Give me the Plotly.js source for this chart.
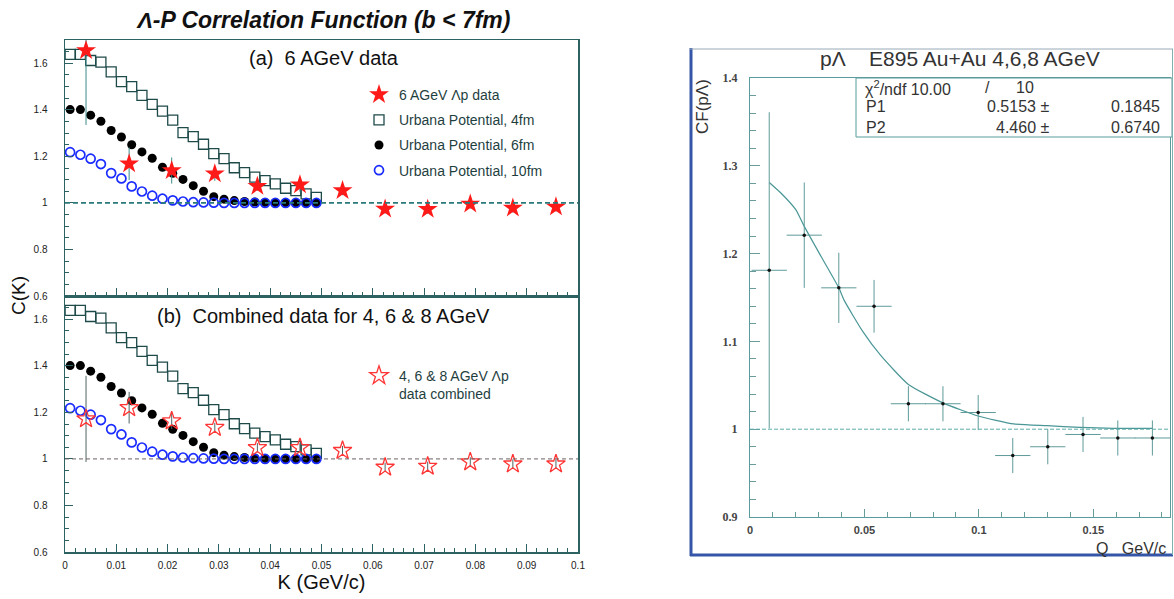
<!DOCTYPE html>
<html>
<head>
<meta charset="utf-8">
<script src="https://cdn.plot.ly/plotly-3.0.1.min.js"></script>
<style>html,body{margin:0;padding:0;background:#fff;}#chart{width:1174px;height:599px;}</style>
</head>
<body>
<div id="chart"></div>
<script>
// ---------------- data ----------------
// theory grid (Urbana potential calculations)
const K_THEORY = [0.001,0.003,0.005,0.007,0.009,0.011,0.013,0.015,0.017,0.019,0.021,0.023,0.025,
                  0.027,0.029,0.031,0.033,0.035,0.037,0.039,0.041,0.043,0.045,0.047,0.049];
const C_URBANA_4FM = [1.638,1.638,1.612,1.605,1.563,1.521,1.500,1.462,1.423,1.394,1.356,1.302,1.285,
                      1.252,1.212,1.190,1.151,1.130,1.111,1.096,1.082,1.063,1.053,1.039,1.024];
const C_URBANA_6FM = [1.401,1.401,1.377,1.351,1.311,1.283,1.250,1.219,1.192,1.153,1.127,1.101,1.074,
                      1.050,1.027,1.016,1.010,1.006,1.004,1.002,1.001,1.001,1.000,1.000,1.000];
const C_URBANA_10FM = [1.218,1.207,1.190,1.167,1.128,1.105,1.071,1.049,1.031,1.018,1.011,1.006,1.003,
                       1.002,1.001,1.000,1.000,1.000,1.000,1.000,1.000,1.000,1.000,1.000,1.000];
// data points
const K_DATA = [0.0041,0.0125,0.0208,0.0292,0.0375,0.0458,0.0541,0.0624,0.0707,0.0790,0.0873,0.0957];
const C_6AGEV = [1.655,1.168,1.139,1.125,1.072,1.078,1.053,0.974,0.973,0.995,0.978,0.983];
const C_6AGEV_ERR = [0.32,0.07,0.056,0.03,0.02,0.03,0.02,0.02,0.02,0.02,0.02,0.02];
const C_COMBINED = [1.172,1.220,1.163,1.135,1.048,1.048,1.036,0.964,0.968,0.987,0.978,0.978];
const C_COMBINED_ERR = [0.185,0.068,0.035,0.02,0.02,0.02,0.02,0.02,0.02,0.02,0.02,0.02];
// E895 pLambda panel
const Q_DATA = [0.0084,0.0237,0.0388,0.0542,0.0692,0.0843,0.0997,0.1148,0.1301,0.1455,0.1607,0.1758];
const Q_HALFBIN = [0.0077,0.0077,0.0077,0.0077,0.0077,0.0077,0.0077,0.0077,0.0077,0.0077,0.0077,0.0077];
const CF_DATA = [1.181,1.221,1.161,1.140,1.029,1.029,1.019,0.970,0.980,0.994,0.990,0.990];
const CF_ERR = [0.18,0.06,0.04,0.03,0.02,0.02,0.02,0.02,0.02,0.02,0.02,0.02];
const FIT_Q = [0.0084,0.0135,0.020,0.0237,0.031,0.0388,0.0411,0.0491,0.0571,0.0692,0.0843,0.0997,
               0.1152,0.1298,0.1443,0.159,0.1758];
const FIT_CF = [1.281,1.269,1.250,1.231,1.197,1.161,1.147,1.112,1.084,1.051,1.030,1.015,
                1.006,1.004,1.002,1.001,1.001];
const BASELINE = 1;
// text
const MAIN_TITLE = 'Λ-P Correlation Function (b < 7fm)';
const LABEL_A = '(a)\u00a0\u00a06 AGeV data';
const LABEL_B = '(b)\u00a0\u00a0Combined data for 4, 6 & 8 AGeV';
const NAMES = ['6 AGeV Λp data','Urbana Potential, 4fm','Urbana Potential, 6fm','Urbana Potential, 10fm'];
const NAME_COMBINED = '4, 6 & 8 AGeV Λp<br>data combined';
const RIGHT_TITLE = 'pΛ\u00a0\u00a0\u00a0\u00a0E895 Au+Au 4,6,8 AGeV';
const STATS = {chi2: '10.00', ndf: '10', p1: '0.5153', p1err: '0.1845', p2: '4.460', p2err: '0.6740'};

// ---------------- layout helpers ----------------
const W = 1174, H = 599;
const fx = p => p / W;
const fy = p => 1 - p / H;
const FRAME = '#2c6262';
const RFRAME = '#5a9c9c';
const SANS = 'Liberation Sans, Arial, sans-serif';

function leftX(anchor, labels) {
  return {
    domain: [fx(65), fx(578)], range: [0, 0.1], anchor: anchor,
    showticklabels: labels, tick0: 0, dtick: 0.01,
    ticks: 'inside', ticklen: 8, tickwidth: 1, tickcolor: FRAME,
    minor: {ticks: 'inside', ticklen: 4, dtick: 0.002, tickcolor: FRAME, tickwidth: 1},
    showline: true, linecolor: FRAME, linewidth: 1.5, mirror: true,
    showgrid: false, zeroline: false,
    tickfont: {family: SANS, size: 10, color: '#222'}, ticklabelstandoff: 3
  };
}
function leftY(anchor, top, bottom) {
  return {
    domain: [fy(bottom), fy(top)], range: [0.6, 1.7], anchor: anchor,
    tick0: 0.6, dtick: 0.2,
    ticks: 'inside', ticklen: 8, tickwidth: 1, tickcolor: FRAME,
    minor: {ticks: 'inside', ticklen: 4, dtick: 0.05, tickcolor: FRAME, tickwidth: 1},
    showline: true, linecolor: FRAME, linewidth: 1.5, mirror: true,
    showgrid: false, zeroline: false,
    tickfont: {family: SANS, size: 10, color: '#222'}, ticklabelstandoff: 14
  };
}

// ---------------- traces ----------------
function theory(xa, ya, show) {
  return [
    {x: K_THEORY, y: C_URBANA_4FM, xaxis: xa, yaxis: ya, type: 'scatter', mode: 'markers',
     name: NAMES[1], legend: 'legend', legendrank: 2, legendgroup: 'g2', showlegend: show,
     marker: {symbol: 'square-open', size: 10, color: '#1f4a4a', line: {width: 1.3}}},
    {x: K_THEORY, y: C_URBANA_6FM, xaxis: xa, yaxis: ya, type: 'scatter', mode: 'markers',
     name: NAMES[2], legend: 'legend', legendrank: 3, legendgroup: 'g3', showlegend: show,
     marker: {symbol: 'circle', size: 9, color: '#000'}},
    {x: K_THEORY, y: C_URBANA_10FM, xaxis: xa, yaxis: ya, type: 'scatter', mode: 'markers',
     name: NAMES[3], legend: 'legend', legendrank: 4, legendgroup: 'g4', showlegend: show,
     marker: {symbol: 'circle-open', size: 9, color: '#1a2cff', line: {width: 1.7}}}
  ];
}

const traces = [].concat(theory('x', 'y', true), [
  {x: K_DATA, y: C_6AGEV, xaxis: 'x', yaxis: 'y', type: 'scatter', mode: 'markers',
   name: NAMES[0], legend: 'legend', legendrank: 1, legendgroup: 'g1',
   marker: {symbol: 'star', size: 15, color: '#ff1a1a', line: {width: 0}},
   error_y: {type: 'data', array: C_6AGEV_ERR, color: '#3a8a8a', thickness: 1, width: 0}}
], theory('x2', 'y2', false), [
  {x: K_DATA, y: C_COMBINED, xaxis: 'x2', yaxis: 'y2', type: 'scatter', mode: 'markers',
   name: NAME_COMBINED, legend: 'legend2',
   marker: {symbol: 'star-open', size: 14, color: '#ff3535', line: {width: 1.3}},
   error_y: {type: 'data', array: C_COMBINED_ERR, color: '#4f6464', thickness: 1, width: 0}},
  {x: FIT_Q, y: FIT_CF, xaxis: 'x3', yaxis: 'y3', type: 'scatter', mode: 'lines',
   name: 'fit', showlegend: false, line: {color: '#4a9696', width: 1.2, shape: 'spline', smoothing: 0.5}},
  {x: Q_DATA, y: CF_DATA, xaxis: 'x3', yaxis: 'y3', type: 'scatter', mode: 'markers',
   name: 'E895 pΛ', showlegend: false,
   marker: {symbol: 'circle', size: 3.5, color: '#111'},
   error_x: {type: 'data', array: Q_HALFBIN, color: '#5f9a9a', thickness: 1, width: 0},
   error_y: {type: 'data', array: CF_ERR, color: '#5f9a9a', thickness: 1, width: 0}}
]);

// ---------------- annotations ----------------
function ann(text, x, y, opts) {
  return Object.assign({text: text, x: fx(x), y: fy(y), xref: 'paper', yref: 'paper',
    showarrow: false, xanchor: 'center', yanchor: 'middle',
    font: {family: SANS, size: 16, color: '#333'}}, opts || {});
}
const annotations = [
  ann(LABEL_A, 324, 58, {font: {family: SANS, size: 20, color: '#111'}}),
  ann(LABEL_B, 323, 316, {font: {family: SANS, size: 20, color: '#111'}}),
  ann('C(K)', 18, 296, {textangle: -90, font: {family: SANS, size: 19, color: '#111'}}),
  ann(RIGHT_TITLE, 960, 58, {font: {family: SANS, size: 21, color: '#333'}}),
  ann('CF(pΛ)', 703, 107, {textangle: -90, font: {family: SANS, size: 17, color: '#333'}}),
  ann('Q\u00a0\u00a0\u00a0GeV/c', 1168, 548, {xanchor: 'right', font: {family: SANS, size: 16, color: '#333'}}),
  ann('χ<sup>2</sup>/ndf ' + STATS.chi2, 863, 88, {xanchor: 'left'}),
  ann('/', 987, 88),
  ann(STATS.ndf, 1025, 88),
  ann('P1', 864, 107, {xanchor: 'left'}),
  ann(STATS.p1 + ' ±', 1051, 107, {xanchor: 'right'}),
  ann(STATS.p1err, 1162, 107, {xanchor: 'right'}),
  ann('P2', 864, 127, {xanchor: 'left'}),
  ann(STATS.p2 + ' ±', 1051, 127, {xanchor: 'right'}),
  ann(STATS.p2err, 1162, 127, {xanchor: 'right'})
];

// ---------------- shapes ----------------
const shapes = [
  {type: 'line', xref: 'x domain', yref: 'y', x0: 0, x1: 1, y0: BASELINE, y1: BASELINE,
   line: {color: '#2a7a7a', width: 1.6, dash: '5px,3px'}},
  {type: 'line', xref: 'x2 domain', yref: 'y2', x0: 0, x1: 1, y0: BASELINE, y1: BASELINE,
   line: {color: '#6f6262', width: 1, dash: '4px,3px'}},
  {type: 'line', xref: 'x3 domain', yref: 'y3', x0: 0, x1: 1, y0: BASELINE, y1: BASELINE,
   line: {color: '#5aaaaa', width: 1, dash: '4px,2px'}},
  // stats box
  {type: 'rect', xref: 'paper', yref: 'paper', x0: fx(856), x1: fx(1172), y0: fy(137), y1: fy(78),
   line: {color: RFRAME, width: 1}, fillcolor: 'rgba(255,255,255,1)', layer: 'above'},
  // outer frame of right figure
  {type: 'line', xref: 'paper', yref: 'paper', x0: fx(691), x1: fx(691), y0: fy(556), y1: fy(48),
   line: {color: '#3556a8', width: 3}},
  {type: 'line', xref: 'paper', yref: 'paper', x0: fx(690), x1: fx(1173), y0: fy(555), y1: fy(555),
   line: {color: '#3556a8', width: 3}},
  {type: 'line', xref: 'paper', yref: 'paper', x0: fx(690), x1: fx(1173), y0: fy(49), y1: fy(49),
   line: {color: '#9aaab8', width: 1}},
  {type: 'line', xref: 'paper', yref: 'paper', x0: fx(1172.5), x1: fx(1172.5), y0: fy(555), y1: fy(49),
   line: {color: '#7fb0b0', width: 1}}
];

const layout = {
  width: W, height: H,
  margin: {l: 0, r: 0, t: 0, b: 0},
  paper_bgcolor: '#fff', plot_bgcolor: 'rgba(0,0,0,0)',
  font: {family: SANS, color: '#222'},
  title: {text: '<b><i>' + MAIN_TITLE.replace('<', '&lt;') + '</i></b>', x: fx(324), xanchor: 'center',
          y: fy(20), yanchor: 'middle', font: {family: SANS, size: 23, color: '#111'}},
  xaxis: leftX('y', false),
  yaxis: leftY('x', 40, 296),
  xaxis2: Object.assign(leftX('y2', true), {
    title: {text: 'K (GeV/c)', font: {family: SANS, size: 20, color: '#111'}, standoff: 5}}),
  yaxis2: leftY('x2', 296, 552),
  xaxis3: {
    domain: [fx(750), fx(1170)], range: [0, 0.1835], anchor: 'y3',
    tick0: 0, dtick: 0.05, ticks: 'inside', ticklen: 8, tickwidth: 1, tickcolor: '#6a9c9c',
    minor: {ticks: 'inside', ticklen: 5, dtick: 0.01, tickcolor: '#6a9c9c', tickwidth: 1},
    showline: true, linecolor: RFRAME, linewidth: 1, mirror: true,
    showgrid: false, zeroline: false,
    tickfont: {family: SANS, size: 11, color: '#444', weight: 'bold'}, ticklabelstandoff: 3
  },
  yaxis3: {
    domain: [fy(517), fy(78)], range: [0.9, 1.4], anchor: 'x3',
    tick0: 0.9, dtick: 0.1, ticks: 'inside', ticklen: 10, tickwidth: 1, tickcolor: '#6a9c9c',
    minor: {ticks: 'inside', ticklen: 6, dtick: 0.02, tickcolor: '#6a9c9c', tickwidth: 1},
    showline: true, linecolor: RFRAME, linewidth: 1, mirror: true,
    showgrid: false, zeroline: false,
    tickfont: {family: 'Liberation Serif, serif', size: 12, color: '#444', weight: 'bold'}, ticklabelstandoff: 9
  },
  showlegend: true,
  legend: {x: fx(359), y: fy(79), xanchor: 'left', yanchor: 'top', bgcolor: 'rgba(0,0,0,0)',
           font: {family: SANS, size: 14, color: '#1f3f3f'}, tracegroupgap: 4, itemclick: false},
  legend2: {x: fx(359), y: fy(360), xanchor: 'left', yanchor: 'top', bgcolor: 'rgba(0,0,0,0)',
            valign: 'top', font: {family: SANS, size: 14, color: '#1f3f3f'}},
  annotations: annotations,
  shapes: shapes
};

Plotly.newPlot('chart', traces, layout, {displayModeBar: false, staticPlot: true});
</script>
</body>
</html>
